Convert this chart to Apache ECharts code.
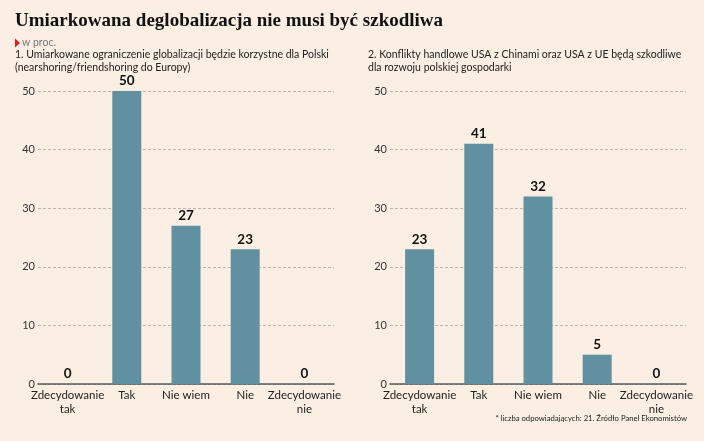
<!DOCTYPE html>
<html><head><meta charset="utf-8">
<script src="https://cdn.jsdelivr.net/npm/echarts@6/dist/echarts.min.js"></script>
<style>html,body{margin:0;padding:0;background:#fbeee2;}#c{width:704px;height:441px;}</style>
</head><body><div id="c"></div>
<script>
var categories = ['Zdecydowanie\ntak', 'Tak', 'Nie wiem', 'Nie', 'Zdecydowanie\nnie'];
var values1 = [0, 50, 27, 23, 0];
var values2 = [23, 41, 32, 5, 0];
var yTicks = [0, 10, 20, 30, 40, 50];

var chart = echarts.init(document.getElementById('c'));
var barColor = '#6191a1';
function xAxis(i) {
  return {
    type: 'category', gridIndex: i, data: categories,
    axisLine: {lineStyle: {color: '#5a5a5a', width: 1.5}},
    axisTick: {show: false},
    axisLabel: {color: '#222', fontFamily: 'Lato', fontSize: 11.5, lineHeight: 13.5, margin: 5, interval: 0}
  };
}
function yAxis(i) {
  return {
    type: 'value', gridIndex: i, min: yTicks[0], max: yTicks[yTicks.length - 1], interval: 10,
    axisLine: {show: false}, axisTick: {show: false},
    axisLabel: {color: '#333', fontFamily: 'Lato', fontSize: 11, margin: 3},
    splitLine: {lineStyle: {color: '#bfb5ab', type: [3, 2], width: 1}}
  };
}
function series(i, data) {
  return {
    type: 'bar', xAxisIndex: i, yAxisIndex: i, data: data, barWidth: 29,
    itemStyle: {color: barColor},
    label: {show: true, position: 'top', distance: 3, color: '#111', fontFamily: 'Lato', fontWeight: 'bold', fontSize: 13.5}
  };
}
chart.setOption({
  backgroundColor: '#fbeee2',
  animation: false,
  title: [
    {text: 'Umiarkowana deglobalizacja nie musi być szkodliwa', left: 15, top: 12, padding: 0,
     textStyle: {fontFamily: 'Liberation Serif', fontWeight: 'bold', fontSize: 19, color: '#111'}},
    {text: 'w proc.', left: 22, top: 37.5, padding: 0, textStyle: {fontFamily: 'Lato', fontWeight: 'normal', fontSize: 10.5, color: '#777'}},
    {text: '1. Umiarkowane ograniczenie globalizacji będzie korzystne dla Polski\n(nearshoring/friendshoring do Europy)',
     left: 15, top: 47.5, padding: 0, textStyle: {fontFamily: 'Lato', fontWeight: 'normal', fontSize: 10.5, lineHeight: 13.5, color: '#222'}},
    {text: '2. Konflikty handlowe USA z Chinami oraz USA z UE będą szkodliwe\ndla rozwoju polskiej gospodarki',
     left: 368, top: 47.5, padding: 0, textStyle: {fontFamily: 'Lato', fontWeight: 'normal', fontSize: 10.5, lineHeight: 13.5, color: '#222'}},
    {text: '* liczba odpowiadających: 21. Źródło Panel Ekonomistów', right: 17, top: 414.5, padding: 0,
     textStyle: {fontFamily: 'Lato', fontWeight: 'normal', fontSize: 7.7, color: '#222'}}
  ],
  graphic: [{type: 'polygon', shape: {points: [[15, 38.5], [15, 47.5], [20, 43]]}, style: {fill: '#e3191e'}}],
  grid: [
    {left: 38, right: 370, top: 91, bottom: 57},
    {left: 390, right: 18, top: 91, bottom: 57}
  ],
  xAxis: [xAxis(0), xAxis(1)],
  yAxis: [yAxis(0), yAxis(1)],
  series: [series(0, values1), series(1, values2)]
});
</script></body></html>
